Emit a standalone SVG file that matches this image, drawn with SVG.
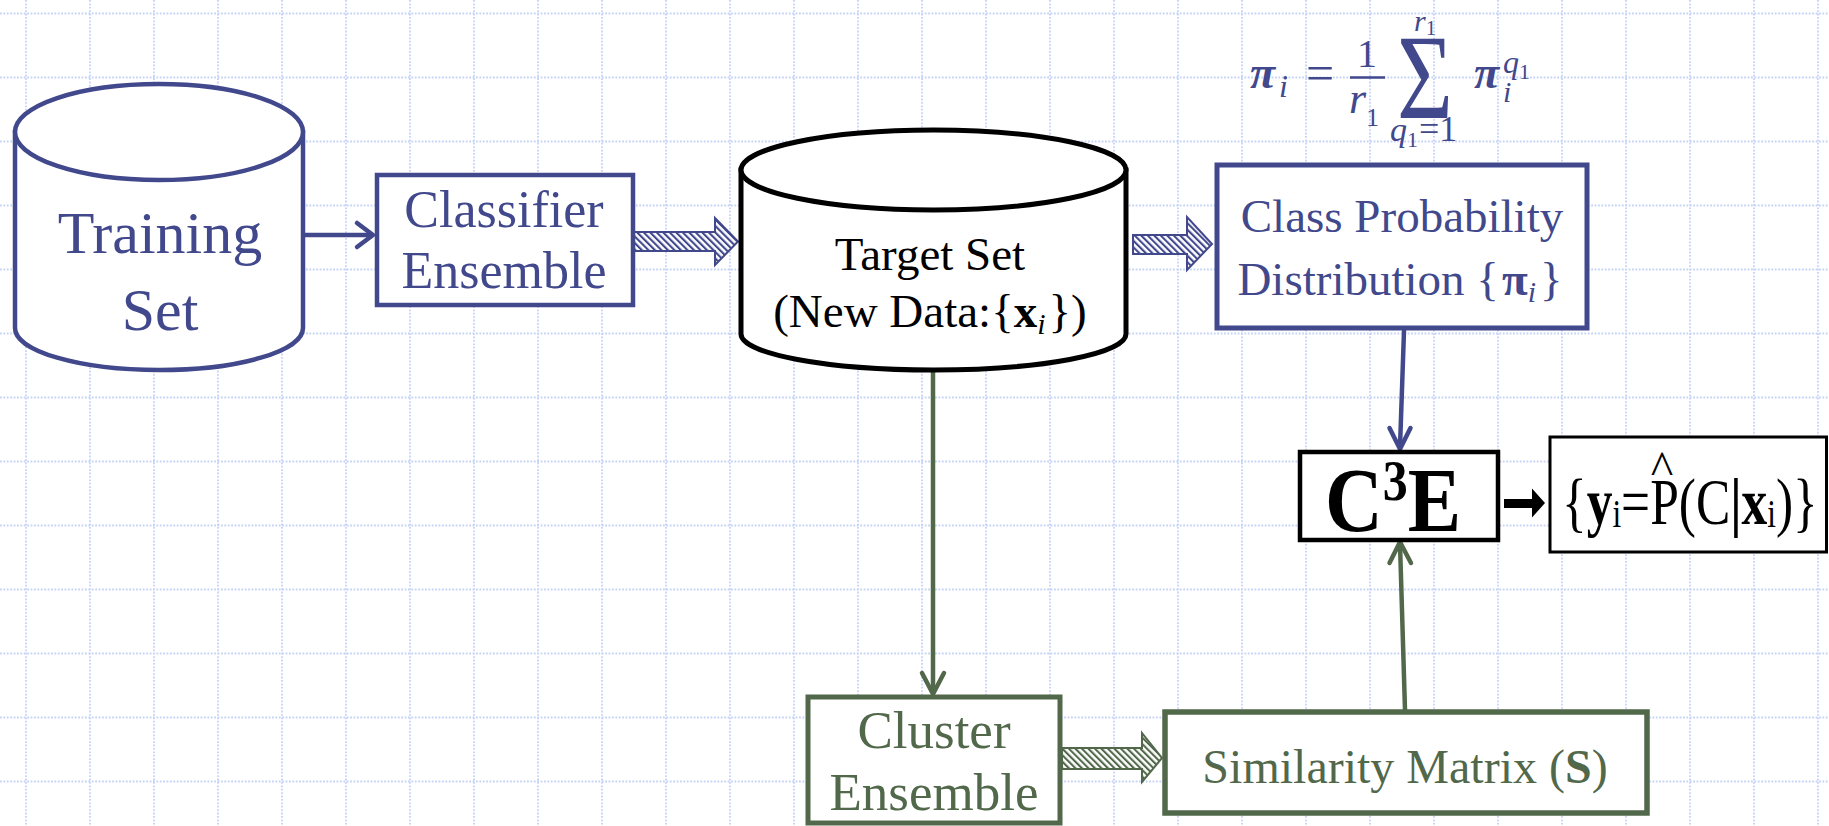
<svg xmlns="http://www.w3.org/2000/svg" width="1829" height="826" viewBox="0 0 1829 826">
  <style>
    .blue { stroke: #41488c; }
    .green { stroke: #52684a; }
    .box { fill: #ffffff; }
    .lbl { font-family: "Liberation Serif", "Times New Roman", serif; }
    .tb { fill: #41488c; }
    .tg { fill: #52684a; }
    .tk { fill: #000000; }
    .conn { fill: none; stroke-linecap: round; stroke-linejoin: round; }
  </style>
  <defs>
    <pattern id="hatchBlue" width="4.6" height="4.6" patternUnits="userSpaceOnUse" patternTransform="rotate(-45)">
      <rect width="4.6" height="4.6" fill="#ffffff"/>
      <rect width="2.1" height="4.6" fill="#41488c"/>
    </pattern>
    <pattern id="hatchGreen" width="4.6" height="4.6" patternUnits="userSpaceOnUse" patternTransform="rotate(-45)">
      <rect width="4.6" height="4.6" fill="#ffffff"/>
      <rect width="2.1" height="4.6" fill="#52684a"/>
    </pattern>
  </defs>

  <rect width="1829" height="826" fill="#ffffff"/>

  <!-- dotted background grid -->
  <path id="grid" fill="none" stroke="#c6d3f7" stroke-width="1.8" stroke-dasharray="1.8 1.6"
        d="M26 0V826M90 0V826M154 0V826M218 0V826M282 0V826M346 0V826M410 0V826M474 0V826M538 0V826M602 0V826M666 0V826M730 0V826M794 0V826M858 0V826M922 0V826M986 0V826M1050 0V826M1114 0V826M1178 0V826M1242 0V826M1306 0V826M1370 0V826M1434 0V826M1498 0V826M1562 0V826M1626 0V826M1690 0V826M1754 0V826M1818 0V826
           M0 13.5H1829M0 77.5H1829M0 141.5H1829M0 205.5H1829M0 269.5H1829M0 333.5H1829M0 397.5H1829M0 461.5H1829M0 525.5H1829M0 589.5H1829M0 653.5H1829M0 717.5H1829M0 781.5H1829"/>

  <!-- connectors -->
  <g id="connectors">
    <line class="conn blue" stroke-width="4.5" x1="305" y1="235" x2="372" y2="235"/>
    <polyline class="conn blue" stroke-width="4.5" points="357,223 373,235 357,247"/>

    <polygon points="634,232 715,232 715,218 738,241.5 715,265 715,251 634,251" fill="url(#hatchBlue)" stroke="#41488c" stroke-width="2"/>
    <polygon points="1133,235 1187,235 1187,217 1212,244 1187,270 1187,254 1133,254" fill="url(#hatchBlue)" stroke="#41488c" stroke-width="2"/>

    <line class="conn blue" stroke-width="4.5" x1="1404" y1="331" x2="1400" y2="447"/>
    <polyline class="conn blue" stroke-width="4.5" points="1389.5,428 1400,449 1410.5,428"/>

    <line class="conn green" stroke-width="4.5" x1="933" y1="372" x2="933" y2="692"/>
    <polyline class="conn green" stroke-width="4.5" points="922,673 933,694 944,673"/>

    <polygon points="1062,748 1142,748 1142,733 1162,758 1142,782 1142,769 1062,769" fill="url(#hatchGreen)" stroke="#52684a" stroke-width="2"/>

    <line class="conn green" stroke-width="4.5" x1="1405" y1="710" x2="1400" y2="544"/>
    <polyline class="conn green" stroke-width="4.5" points="1389.5,563 1400,542 1411,563"/>

    <polygon points="1504,499 1532,499 1532,488.5 1545,503 1532,517.5 1532,508 1504,508" fill="#000000"/>
  </g>

  <!-- Training Set store -->
  <g id="training-set">
    <path d="M15,132 L15,328 A144,42 0 0 0 303,328 L303,132 Z" class="box blue" stroke-width="4.5"/>
    <ellipse cx="159" cy="132" rx="144" ry="48" class="box blue" stroke-width="4.5"/>
    <text class="lbl tb" x="160" y="253" font-size="60" text-anchor="middle">Training</text>
    <text class="lbl tb" x="160" y="330" font-size="60" text-anchor="middle">Set</text>
  </g>

  <!-- Classifier Ensemble -->
  <g id="classifier-ensemble">
    <rect x="377" y="175" width="256" height="130" class="box blue" stroke-width="4.5"/>
    <text class="lbl tb" x="504" y="227" font-size="52" text-anchor="middle">Classifier</text>
    <text class="lbl tb" x="504" y="288" font-size="52" text-anchor="middle">Ensemble</text>
  </g>

  <!-- Target Set store -->
  <g id="target-set">
    <path d="M741,170 L741,334 A192.5,36 0 0 0 1126,334 L1126,170 Z" fill="#ffffff" stroke="#000000" stroke-width="5"/>
    <ellipse cx="933.5" cy="170" rx="192.5" ry="40" fill="#ffffff" stroke="#000000" stroke-width="5"/>
    <text class="lbl tk" x="930" y="270" font-size="47" text-anchor="middle">Target Set</text>
    <text class="lbl tk" x="930" y="327" font-size="47" text-anchor="middle">(New Data:{<tspan font-weight="bold">x</tspan><tspan font-size="30" font-style="italic" dy="7">i</tspan><tspan dy="-7" dx="3">})</tspan></text>
  </g>

  <!-- Class Probability Distribution -->
  <g id="class-probability">
    <rect x="1217" y="165" width="370" height="163" class="box blue" stroke-width="5"/>
    <text class="lbl tb" x="1402" y="232" font-size="47" text-anchor="middle">Class Probability</text>
    <text class="lbl tb" x="1400" y="295" font-size="47" text-anchor="middle">Distribution {<tspan font-weight="bold" dx="3">π</tspan><tspan font-size="30" font-style="italic" dy="7">i</tspan><tspan dy="-7" dx="4">}</tspan></text>
  </g>

  <!-- averaging formula: pi_i = (1/r1) * sum over q1 of pi_i^q1 -->
  <g id="formula" class="lbl tb">
    <text x="1250" y="88" font-size="46" font-weight="bold" font-style="italic">π</text>
    <text x="1279" y="97" font-size="32" font-style="italic">i</text>
    <text x="1306" y="90" font-size="50">=</text>
    <text x="1367" y="67" font-size="40" text-anchor="middle">1</text>
    <line x1="1350" y1="77.5" x2="1385" y2="77.5" stroke="#41488c" stroke-width="2.6"/>
    <text x="1349" y="113" font-size="44" font-style="italic">r</text>
    <text x="1366" y="126" font-size="26">1</text>
    <text transform="translate(1397,118) scale(1.2,1.5)" font-size="80">Σ</text>
    <text x="1414" y="31" font-size="30" font-style="italic">r</text>
    <text x="1426" y="35" font-size="20">1</text>
    <text x="1390" y="141" font-size="34" font-style="italic">q</text>
    <text x="1407" y="147" font-size="22">1</text>
    <text x="1419" y="141" font-size="36">=1</text>
    <text x="1474" y="88" font-size="46" font-weight="bold" font-style="italic">π</text>
    <text x="1503" y="73" font-size="32" font-style="italic">q</text>
    <text x="1519" y="79" font-size="22">1</text>
    <text x="1503" y="102" font-size="30" font-style="italic">i</text>
  </g>

  <!-- C3E combiner -->
  <g id="c3e">
    <rect x="1300" y="452" width="198" height="88" fill="#ffffff" stroke="#000000" stroke-width="4.5"/>
    <text class="lbl tk" transform="translate(1325,531) scale(1,1.15)" font-size="80" font-weight="bold">C<tspan font-size="50" dy="-27">3</tspan><tspan dy="27">E</tspan></text>
  </g>

  <!-- output posterior -->
  <g id="output">
    <rect x="1550" y="437" width="276.5" height="115" fill="#ffffff" stroke="#000000" stroke-width="3"/>
    <text class="lbl tk" transform="translate(1562,524) scale(0.78,1)" font-size="66">{<tspan font-weight="bold">y</tspan><tspan font-size="40" dy="3">i</tspan><tspan dy="-3">=P(C</tspan><tspan font-weight="bold">|x</tspan><tspan font-size="40" dy="3">i</tspan><tspan dy="-3">)}</tspan></text>
    <text class="lbl tk" x="1662" y="484" font-size="48" text-anchor="middle">^</text>
  </g>

  <!-- Cluster Ensemble -->
  <g id="cluster-ensemble">
    <rect x="808" y="697" width="252" height="126" class="box green" stroke-width="5"/>
    <text class="lbl tg" x="934" y="748" font-size="53" text-anchor="middle">Cluster</text>
    <text class="lbl tg" x="934" y="810" font-size="53" text-anchor="middle">Ensemble</text>
  </g>

  <!-- Similarity Matrix -->
  <g id="similarity-matrix">
    <rect x="1165" y="712" width="482" height="101" class="box green" stroke-width="5.5"/>
    <text class="lbl tg" x="1405" y="783" font-size="48" text-anchor="middle">Similarity Matrix (<tspan font-weight="bold">S</tspan>)</text>
  </g>
</svg>
